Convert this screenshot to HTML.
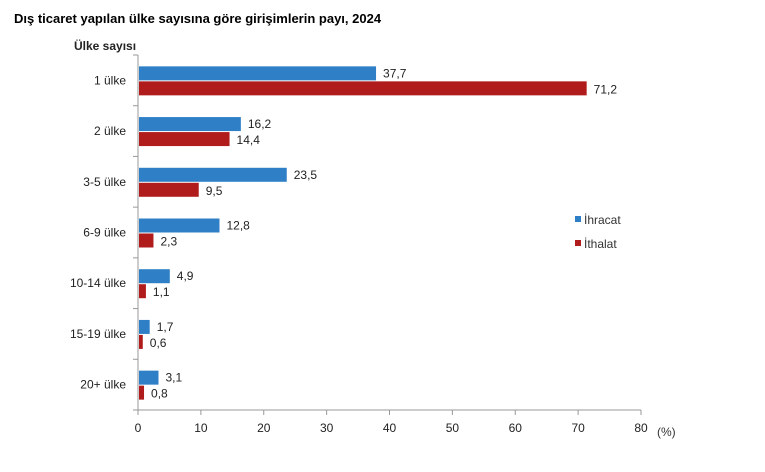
<!DOCTYPE html>
<html><head><meta charset="utf-8"><style>
body{margin:0;background:#fff;font-family:"Liberation Sans",Arial,sans-serif;}
svg text{font-family:"Liberation Sans",Arial,sans-serif;}
</style></head><body>
<svg width="765" height="467" xmlns="http://www.w3.org/2000/svg">
<text x="14" y="23" font-size="13" font-weight="bold" fill="#000">Dış ticaret yapılan ülke sayısına göre girişimlerin payı, 2024</text>
<text x="74" y="50" font-size="12" font-weight="bold" fill="#222">Ülke sayısı</text>
<g id="plot"></g>
<rect x="575" y="216" width="6" height="6" fill="#2e7fc6"/>
<text x="584" y="224" font-size="12" fill="#333">İhracat</text>
<rect x="575" y="240" width="6" height="6" fill="#b01c1c"/>
<text x="584" y="248" font-size="12" fill="#333">İthalat</text>
<text x="657" y="436" font-size="12" fill="#333">(%)</text>
</svg>
<script>
const categories=["1 ülke","2 ülke","3-5 ülke","6-9 ülke","10-14 ülke","15-19 ülke","20+ ülke"];
const ihracat=[37.7,16.2,23.5,12.8,4.9,1.7,3.1];
const ithalat=[71.2,14.4,9.5,2.3,1.1,0.6,0.8];
const xTicks=[0,10,20,30,40,50,60,70,80];
const NS="http://www.w3.org/2000/svg";
const g=document.getElementById('plot');
const x0=138,x1=641,yTop=55,yBottom=410,xMax=80;
const xs=v=>x0+v/xMax*(x1-x0);
const band=(yBottom-yTop)/categories.length;
function mk(t,a){const e=document.createElementNS(NS,t);for(const k in a)e.setAttribute(k,a[k]);g.appendChild(e);return e;}
const fmt=v=>v.toFixed(1).replace('.',',');
let ax=mk('line',{x1:x0,y1:yTop,x2:x0,y2:yBottom,stroke:'#999'});


let bx=mk('line',{x1:x0,y1:yBottom,x2:x1,y2:yBottom,stroke:'#999'});


for(let i=0;i<=categories.length;i++){let y=yTop+i*band;mk('line',{x1:x0-5,y1:y,x2:x0,y2:y,stroke:'#999'});}
xTicks.forEach(t=>{const x=xs(t);mk('line',{x1:x,y1:yBottom,x2:x,y2:yBottom+5,stroke:'#999'});
const tl=mk('text',{x:x,y:yBottom+22,'font-size':12,'text-anchor':'middle',fill:'#222'});tl.textContent=t;

});
categories.forEach((c,i)=>{const cy=yTop+band*i+band/2;
const l=mk('text',{x:126,y:cy+4,'font-size':12,'text-anchor':'end',fill:'#222'});l.textContent=c;


const b1=mk('rect',{x:x0+1,y:cy-14,width:xs(ihracat[i])-x0,height:14,fill:'#2e7fc6'});


const b2=mk('rect',{x:x0+1,y:cy+1,width:xs(ithalat[i])-x0,height:14,fill:'#b01c1c'});


const v1=mk('text',{x:xs(ihracat[i])+8,y:cy-3,'font-size':12,fill:'#222'});v1.textContent=fmt(ihracat[i]);


const v2=mk('text',{x:xs(ithalat[i])+8,y:cy+13,'font-size':12,fill:'#222'});v2.textContent=fmt(ithalat[i]);

});
</script>
</body></html>
